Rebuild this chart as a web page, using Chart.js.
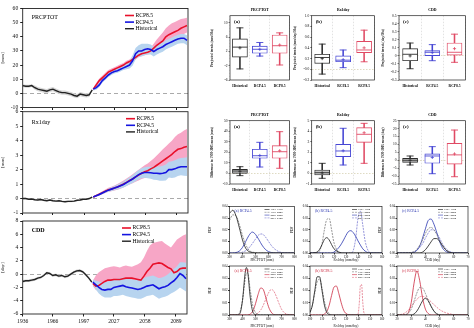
<!DOCTYPE html>
<html>
<head>
<meta charset="utf-8">
<script src="https://cdn.jsdelivr.net/npm/chart.js@4.4.1/dist/chart.umd.min.js"></script>
<style>
  html, body { margin: 0; padding: 0; background: #fff; }
  #wrap { position: relative; width: 474px; height: 328px; overflow: hidden; background: #fff; }
  #wrap canvas { position: absolute; }
</style>
</head>
<body>
<div id="wrap"></div>
<script>
// ---------- left column: time series ----------
const histYears = [1936, 1939, 1942, 1945, 1948, 1951, 1954, 1957, 1960, 1963, 1966, 1969, 1972, 1975, 1978, 1981, 1984, 1987, 1990, 1993, 1996, 1999, 2002, 2005]
const projYears = [2006, 2009, 2012, 2015, 2018, 2021, 2024, 2027, 2030, 2033, 2036, 2039, 2042, 2045, 2048, 2051, 2054, 2057, 2060, 2063, 2066, 2069, 2072, 2075, 2078, 2081, 2084, 2087, 2090, 2093, 2096, 2099]
const tickYears = [1936, 1966, 1997, 2027, 2058, 2089]

const prHist = [5.5, 5, 5, 5.5, 4, 3, 2.5, 2, 1.5, 2.5, 3, 2, 1, 0.5, 0.5, 0, -0.5, -1.5, -2, -0.5, -1, -1.5, -1, 2.5]
const prHistHi = [6.5, 6, 6, 6.5, 5.5, 4.5, 4, 3.5, 3, 4, 4.5, 3.5, 2.5, 2, 2, 1.5, 1, 0, -0.5, 1, 0.5, 0, 0.5, 3]
const prHistLo = [4.5, 4, 4, 4.5, 2.5, 1.5, 1, 0.5, 0, 1, 1.5, 0.5, -0.5, -1, -1, -1.5, -2, -3, -3.5, -2, -2.5, -3, -2.5, 2]
const pr85 = [3, 6, 9, 11, 13, 15, 16, 17, 18, 19, 20, 21.5, 22.5, 24, 25.5, 27, 28, 28.5, 29, 30, 32, 34, 35.5, 37, 40, 41.5, 42.5, 43.5, 44.5, 46, 47, 48]
const pr85Hi = [4, 7.5, 10.5, 12.5, 14.5, 16.5, 17.5, 18.5, 19.5, 20.5, 21.5, 23, 24, 25.5, 27.5, 29, 30, 30.5, 31, 32.5, 35, 38, 40.5, 43, 46, 48, 49.5, 50.5, 51.5, 52.5, 53, 53.5]
const pr85Lo = [2, 4.5, 7.5, 9.5, 11.5, 13.5, 14.5, 15.5, 16.5, 17.5, 18.5, 20, 21, 22.5, 24, 25.5, 26.5, 27, 27.5, 28, 29.5, 31, 32, 33, 35, 36.5, 37.5, 38.5, 39.5, 41, 42, 43]
const pr45 = [3, 4, 6, 9, 11, 13, 14.5, 15.5, 16, 17, 18, 19, 20, 23, 28, 30, 30, 31, 31.5, 31, 29.5, 31, 32, 33, 34.5, 35.5, 36.5, 37.5, 38.5, 39, 39, 37.5]
const pr45Hi = [4, 5.5, 7.5, 10.5, 12.5, 14.5, 16, 17, 17.5, 18.5, 19.5, 21, 23, 27, 32, 34, 35, 35, 35, 34.5, 33, 34, 35, 36, 37.5, 38.5, 39.5, 40.5, 41.5, 42, 42, 41]
const pr45Lo = [2, 2.5, 4.5, 7.5, 9.5, 11.5, 13, 14, 14.5, 15.5, 16.5, 17, 17.5, 19.5, 24, 26, 26, 27, 27.5, 27.5, 26, 27.5, 28.5, 29.5, 31, 32, 33, 34, 35, 35.5, 35.5, 34]

const rxHist = [0, 0, -0.05, -0.03, -0.08, -0.1, -0.07, -0.12, -0.15, -0.1, -0.15, -0.18, -0.15, -0.2, -0.22, -0.2, -0.2, -0.18, -0.12, -0.1, -0.05, -0.05, 0, 0.1]
const rxHistHi = [0.06, 0.06, 0.01, 0.03, -0.02, -0.04, -0.01, -0.06, -0.09, -0.04, -0.09, -0.12, -0.09, -0.14, -0.16, -0.14, -0.14, -0.12, -0.06, -0.04, 0.01, 0.01, 0.06, 0.16]
const rxHistLo = [-0.06, -0.06, -0.11, -0.09, -0.14, -0.16, -0.13, -0.18, -0.21, -0.16, -0.21, -0.24, -0.21, -0.26, -0.28, -0.26, -0.26, -0.24, -0.18, -0.16, -0.11, -0.11, -0.06, 0.04]
const rx85 = [0.1, 0.2, 0.3, 0.4, 0.5, 0.6, 0.65, 0.72, 0.8, 0.9, 1.0, 1.12, 1.25, 1.35, 1.5, 1.62, 1.75, 1.85, 1.92, 2.05, 2.15, 2.3, 2.45, 2.6, 2.75, 2.9, 3.05, 3.25, 3.4, 3.45, 3.55, 3.6]
const rx85Hi = [0.15, 0.27, 0.38, 0.5, 0.62, 0.74, 0.81, 0.9, 1.0, 1.12, 1.24, 1.38, 1.53, 1.67, 1.84, 1.99, 2.15, 2.3, 2.42, 2.6, 2.77, 2.98, 3.18, 3.4, 3.6, 3.8, 4.0, 4.25, 4.45, 4.55, 4.7, 4.8]
const rx85Lo = [0.05, 0.13, 0.22, 0.3, 0.38, 0.46, 0.5, 0.55, 0.6, 0.68, 0.76, 0.86, 0.97, 1.05, 1.16, 1.25, 1.35, 1.42, 1.45, 1.55, 1.62, 1.72, 1.82, 1.92, 2.0, 2.1, 2.2, 2.35, 2.45, 2.5, 2.55, 2.6]
const rx45 = [0.1, 0.2, 0.28, 0.38, 0.48, 0.58, 0.65, 0.72, 0.8, 0.88, 0.97, 1.1, 1.22, 1.35, 1.5, 1.65, 1.75, 1.8, 1.8, 1.78, 1.75, 1.75, 1.72, 1.75, 1.8, 2.0, 2.0, 2.05, 2.15, 2.2, 2.2, 2.2]
const rx45Hi = [0.15, 0.26, 0.36, 0.47, 0.58, 0.7, 0.78, 0.87, 0.97, 1.07, 1.18, 1.33, 1.47, 1.62, 1.8, 1.98, 2.1, 2.17, 2.2, 2.2, 2.2, 2.22, 2.22, 2.27, 2.35, 2.55, 2.58, 2.65, 2.75, 2.8, 2.82, 2.85]
const rx45Lo = [0.05, 0.14, 0.2, 0.29, 0.38, 0.46, 0.52, 0.57, 0.63, 0.69, 0.76, 0.87, 0.97, 1.08, 1.2, 1.32, 1.4, 1.43, 1.4, 1.36, 1.3, 1.28, 1.22, 1.23, 1.25, 1.45, 1.42, 1.45, 1.55, 1.6, 1.58, 1.55]

const cddHist = [-1.1, -1.0, -1.0, -0.9, -0.8, -0.6, -0.5, -0.2, 0.2, 0.1, -0.2, -0.1, -0.3, -0.2, -0.4, -0.3, 0, 0.3, 0.5, 0.55, 0.35, -0.1, -0.6, -1.2]
const cddHistHi = [-0.9, -0.8, -0.8, -0.7, -0.6, -0.4, -0.3, 0, 0.4, 0.3, 0, 0.1, -0.1, 0, -0.2, -0.1, 0.2, 0.5, 0.7, 0.75, 0.55, 0.1, -0.4, -1.0]
const cddHistLo = [-1.3, -1.2, -1.2, -1.1, -1.0, -0.8, -0.7, -0.4, 0, -0.1, -0.4, -0.3, -0.5, -0.4, -0.6, -0.5, -0.2, 0.1, 0.3, 0.35, 0.15, -0.3, -0.8, -1.4]
const cdd85 = [-1.4, -1.8, -1.7, -1.4, -1.1, -0.9, -0.9, -0.8, -0.8, -0.8, -0.7, -0.6, -0.6, -0.6, -0.7, -0.8, -0.9, -0.3, 0.4, 0.9, 1.5, 1.6, 1.7, 1.6, 1.3, 1.0, 0.8, 0.2, 0.4, 0.8, 0.9, 0.9]
const cdd85Hi = [-1.0, -0.2, 0.3, 0.6, 0.9, 1.0, 1.1, 1.2, 1.1, 1.0, 1.2, 1.3, 1.2, 1.1, 1.3, 1.5, 1.8, 2.5, 3.5, 4.3, 4.7, 4.8, 4.9, 5.0, 4.6, 4.3, 4.0, 4.6, 5.2, 5.5, 5.8, 6.0]
const cdd85Lo = [-1.8, -2.4, -2.5, -2.4, -2.2, -2.1, -2.1, -2.0, -2.0, -2.0, -1.9, -1.9, -1.9, -2.0, -2.1, -2.2, -2.3, -1.9, -1.5, -1.2, -0.8, -0.7, -0.6, -0.7, -1.0, -1.2, -1.5, -1.9, -1.9, -1.6, -1.5, -1.5]
const cdd45 = [-1.2, -1.6, -2.0, -2.3, -2.4, -2.3, -2.3, -2.0, -1.9, -1.8, -1.7, -1.9, -2.0, -2.1, -2.2, -2.3, -2.2, -2.0, -1.8, -1.7, -1.6, -1.9, -2.2, -2.0, -1.9, -1.7, -1.3, -1.0, -0.5, 0.1, -0.2, -0.7]
const cdd45Hi = [-0.8, -1.0, -1.1, -1.2, -1.2, -1.1, -1.0, -0.8, -0.7, -0.6, -0.5, -0.6, -0.7, -0.8, -0.9, -0.9, -0.8, -0.6, -0.4, -0.3, -0.2, -0.4, -0.6, -0.5, -0.3, 0, 0.4, 0.8, 1.2, 1.8, 1.8, 1.7]
const cdd45Lo = [-1.6, -2.3, -2.9, -3.3, -3.5, -3.5, -3.5, -3.3, -3.3, -3.2, -3.1, -3.3, -3.4, -3.5, -3.6, -3.7, -3.7, -3.5, -3.3, -3.2, -3.1, -3.4, -3.7, -3.5, -3.4, -3.2, -2.9, -2.7, -2.4, -2.0, -2.3, -2.6]

// ---------- right column: box plots ----------
const boxCats = ['Historical', 'RCP4.5', 'RCP8.5']
const boxColors = ['#2b2b2b', '#4646d4', '#e04a64']

const prTrend = { min: [-2.9, 0.7, -1.8], q1: [0.4, 1.5, 1.5], med: [3.2, 2.6, 3.6], q3: [5.5, 3.5, 6.6], max: [8.6, 4.5, 7.2], mean: [3.0, 2.6, 3.8] }
const rxTrend = { min: [-0.09, 0.03, 0.14], q1: [0.11, 0.14, 0.31], med: [0.22, 0.17, 0.36], q3: [0.28, 0.25, 0.52], max: [0.47, 0.36, 0.73], mean: [0.2, 0.18, 0.4] }
const cddTrend = { min: [-0.16, -0.06, -0.08], q1: [-0.06, 0, 0.01], med: [0.02, 0.045, 0.045], q3: [0.09, 0.065, 0.16], max: [0.16, 0.14, 0.27], mean: [0, 0.04, 0.09] }

const prDiff = { min: [-2.1, 6.1, 4.9], q1: [0.1, 14.4, 14.4], med: [2.3, 16.8, 20.6], q3: [3.9, 22.9, 26.3], max: [6.4, 29.5, 39.6], mean: [2.0, 17, 21.5] }
const rxDiff = { min: [-0.46, 0.8, 0.96], q1: [-0.15, 1.59, 2.95], med: [0.07, 2.13, 3.71], q3: [0.33, 2.76, 4.34], max: [0.96, 4.28, 4.75], mean: [0.05, 2.15, 3.86] }
const cddDiff = { min: [-3.0, -8.5, -10.4], q1: [-1.3, -1.9, -2.4], med: [0, 2.7, 3.4], q3: [1.2, 4.0, 10.7], max: [2.7, 8.6, 19.1], mean: [0, 1.8, 4.0] }

// ---------- right column: PDF curves ----------
const periods = ['1961-1990', '1991-2005', '2021-2050', '2071-2100']

const gridA3 = [300, 325, 350, 375, 400, 425, 450, 475, 500, 525, 550, 575, 600, 625, 650, 700, 750, 800]
const a3Black = [0.85, 0.92, 0.80, 0.55, 0.28, 0.10, 0.03, 0.01, 0, 0, 0, 0, 0, 0, 0, 0, 0, 0]
const a3Grey = [0.70, 0.82, 0.80, 0.62, 0.38, 0.18, 0.06, 0.02, 0.01, 0, 0, 0, 0, 0, 0, 0, 0, 0]
const a3Solid = [0, 0, 0.01, 0.04, 0.12, 0.25, 0.38, 0.45, 0.40, 0.29, 0.17, 0.08, 0.03, 0.01, 0, 0, 0, 0]
const a3Dash = [0, 0, 0, 0, 0.02, 0.05, 0.11, 0.20, 0.30, 0.39, 0.41, 0.35, 0.25, 0.15, 0.08, 0.01, 0, 0]

const gridB3 = [100, 105, 108, 110, 112, 114, 116, 118, 120, 125, 128, 130, 132, 134, 136, 138, 140, 142, 144, 146, 150, 155, 160]
const b3Black = [0, 0.01, 0.08, 0.18, 0.29, 0.33, 0.28, 0.18, 0.09, 0.01, 0, 0, 0, 0, 0, 0, 0, 0, 0, 0, 0, 0, 0]
const b3Grey = [0, 0, 0.05, 0.2, 0.5, 0.72, 0.74, 0.5, 0.22, 0.01, 0, 0, 0, 0, 0, 0, 0, 0, 0, 0, 0, 0, 0]
const b3Solid = [0, 0, 0, 0, 0, 0, 0, 0, 0.02, 0.15, 0.28, 0.38, 0.46, 0.48, 0.44, 0.36, 0.26, 0.17, 0.09, 0.04, 0, 0, 0]
const b3Dash = [0, 0, 0, 0, 0, 0, 0, 0, 0, 0, 0, 0, 0, 0, 0.05, 0.3, 0.75, 0.9, 0.6, 0.25, 0.01, 0, 0]

const gridC3 = [20, 30, 33, 36, 38, 40, 42, 44, 46, 48, 50, 52, 54, 56, 60, 70]
const c3Black = [0, 0, 0, 0, 0.02, 0.07, 0.15, 0.24, 0.31, 0.31, 0.25, 0.16, 0.08, 0.03, 0, 0]
const c3Grey = [0, 0.01, 0.05, 0.17, 0.28, 0.42, 0.52, 0.55, 0.5, 0.4, 0.27, 0.16, 0.08, 0.03, 0, 0]
const c3Solid = [0, 0, 0.03, 0.15, 0.32, 0.52, 0.7, 0.73, 0.62, 0.44, 0.25, 0.11, 0.04, 0.01, 0, 0]
const c3Dash = [0, 0.01, 0.04, 0.12, 0.2, 0.32, 0.43, 0.5, 0.49, 0.42, 0.32, 0.2, 0.11, 0.05, 0.01, 0]

const gridA4 = [300, 360, 380, 400, 420, 430, 440, 460, 480, 500, 520, 540, 560, 580, 600, 620, 640, 660, 680, 700, 720, 750, 800]
const a4Black = [0, 0, 0.03, 0.3, 0.85, 0.97, 0.88, 0.35, 0.06, 0.01, 0, 0, 0, 0, 0, 0, 0, 0, 0, 0, 0, 0, 0]
const a4Grey = [0, 0.01, 0.06, 0.3, 0.72, 0.85, 0.86, 0.5, 0.18, 0.05, 0.01, 0, 0, 0, 0, 0, 0, 0, 0, 0, 0, 0, 0]
const a4Solid = [0, 0, 0, 0, 0, 0, 0, 0.02, 0.08, 0.23, 0.42, 0.55, 0.52, 0.35, 0.17, 0.06, 0.01, 0, 0, 0, 0, 0, 0]
const a4Dash = [0, 0, 0, 0, 0, 0, 0, 0, 0, 0.01, 0.04, 0.1, 0.2, 0.33, 0.45, 0.52, 0.49, 0.38, 0.24, 0.12, 0.05, 0.01, 0]

const gridB4 = [100, 102, 104, 106, 108, 110, 112, 114, 116, 118, 120, 122, 124, 126, 128, 130, 135, 138, 140, 141, 142, 143, 144, 145, 147, 150, 160]
const b4Black = [0.05, 0.2, 0.5, 0.78, 0.78, 0.5, 0.2, 0.05, 0.01, 0, 0, 0, 0, 0, 0, 0, 0, 0, 0, 0, 0, 0, 0, 0, 0, 0, 0]
const b4Grey = [0.06, 0.2, 0.45, 0.68, 0.73, 0.55, 0.28, 0.1, 0.03, 0, 0, 0, 0, 0, 0, 0, 0, 0, 0, 0, 0, 0, 0, 0, 0, 0, 0]
const b4Solid = [0, 0, 0, 0, 0, 0, 0.02, 0.07, 0.2, 0.4, 0.57, 0.59, 0.44, 0.25, 0.1, 0.03, 0, 0, 0, 0, 0, 0, 0, 0, 0, 0, 0]
const b4Dash = [0, 0, 0, 0, 0, 0, 0, 0, 0, 0, 0, 0, 0, 0, 0, 0, 0, 0, 0.02, 0.22, 0.6, 0.62, 0.25, 0.04, 0, 0, 0]

const gridC4 = [20, 24, 26, 28, 30, 32, 34, 36, 38, 40, 42, 44, 46, 48, 50, 54, 60, 70]
const c4Black = [0, 0, 0, 0, 0, 0.02, 0.08, 0.18, 0.29, 0.34, 0.29, 0.18, 0.08, 0.02, 0, 0, 0, 0]
const c4Grey = [0, 0, 0.01, 0.04, 0.12, 0.28, 0.45, 0.56, 0.55, 0.44, 0.3, 0.17, 0.08, 0.03, 0.01, 0, 0, 0]
const c4Solid = [0, 0, 0, 0.05, 0.25, 0.65, 0.9, 0.7, 0.35, 0.12, 0.03, 0, 0, 0, 0, 0, 0, 0]
const c4Dash = [0, 0.02, 0.05, 0.1, 0.17, 0.25, 0.32, 0.37, 0.38, 0.36, 0.32, 0.27, 0.21, 0.16, 0.11, 0.05, 0.01, 0]


Chart.defaults.font.family = "'Liberation Serif', 'Times New Roman', serif"
Chart.defaults.color = '#111'

// frame, inner titles and small legends
const deco = {
    id: 'deco',
    afterDatasetsDraw(chart, args, o) {
        const ctx = chart.ctx
        const a = chart.chartArea
        ctx.save()
        ctx.setLineDash([])
        ctx.lineWidth = o.frame || 0.8
        ctx.strokeStyle = '#222'
        ctx.strokeRect(a.left, a.top, a.right - a.left, a.bottom - a.top)
        ctx.textBaseline = 'middle'
        if (o.title) {
            ctx.font = o.title.font
            ctx.fillStyle = '#000'
            ctx.textAlign = 'center'
            ctx.fillText(o.title.text, (a.left + a.right) / 2, a.top - o.title.dy)
        }
        if (o.tag) {
            ctx.font = o.tag.font
            ctx.fillStyle = o.tag.color || '#000'
            ctx.textAlign = 'left'
            ctx.fillText(o.tag.text, a.left + o.tag.dx, a.top + o.tag.dy)
        }
        if (o.legend) {
            const L = o.legend
            ctx.font = L.font
            ctx.textAlign = 'left'
            L.items.forEach(function (di, k) {
                const ds = chart.data.datasets[di]
                const x = a.right - L.right
                const y = a.top + L.top + k * L.gap
                ctx.strokeStyle = ds.borderColor
                ctx.lineWidth = L.width || ds.borderWidth
                ctx.setLineDash(ds.borderDash || [])
                ctx.beginPath()
                ctx.moveTo(x, y)
                ctx.lineTo(x + L.len, y)
                ctx.stroke()
                ctx.setLineDash([])
                ctx.fillStyle = '#000'
                ctx.fillText(ds.label, x + L.len + L.pad, y)
            })
        }
        ctx.restore()
    }
}
Chart.register(deco)

// box = [left, top, width, height] of the canvas, plot = [left, top, right, bottom] of the plot area
function makeChart(box, plot, cfg) {
    const cv = document.createElement('canvas')
    cv.width = box[2]
    cv.height = box[3]
    cv.style.left = box[0] + 'px'
    cv.style.top = box[1] + 'px'
    cv.style.width = box[2] + 'px'
    cv.style.height = box[3] + 'px'
    document.getElementById('wrap').appendChild(cv)
    const o = cfg.options
    o.responsive = false
    o.animation = false
    o.devicePixelRatio = 1
    o.events = []
    o.layout = { padding: { left: 0, top: plot[1] - box[1], right: box[0] + box[2] - plot[2], bottom: 0 } }
    o.scales.x.afterFit = function (s) { s.height = box[1] + box[3] - plot[3]; s.paddingLeft = 0; s.paddingRight = 0 }
    o.scales.y.afterFit = function (s) { s.width = plot[0] - box[0]; s.paddingTop = 0; s.paddingBottom = 0 }
    o.plugins = Object.assign({ legend: { display: false }, tooltip: { enabled: false } }, o.plugins)
    return new Chart(cv, cfg)
}

function pts(xs, ys) {
    return xs.map(function (x, i) { return { x: x, y: ys[i] } })
}

function bandPair(xs, hi, lo, color, order) {
    return [
        { data: pts(xs, hi), borderWidth: 0, pointRadius: 0, fill: '+1', backgroundColor: color, order: order },
        { data: pts(xs, lo), borderWidth: 0, pointRadius: 0, fill: false, order: order }
    ]
}

function seriesChart(box, plot, s) {
    const datasets = []
        .concat(bandPair(projYears, s.hi85, s.lo85, '#f7a6c6', 6))
        .concat(bandPair(projYears, s.hi45, s.lo45, '#b7d4ef', 5))
        .concat(bandPair(histYears, s.hiH, s.loH, '#d6d6d6', 5))
    datasets.push({ label: 'RCP8.5', data: pts(projYears, s.r85), borderColor: '#e8102a', borderWidth: 1.6, pointRadius: 0, order: 2 })
    datasets.push({ label: 'RCP4.5', data: pts(projYears, s.r45), borderColor: '#1414e0', borderWidth: 1.6, pointRadius: 0, order: 1 })
    datasets.push({ label: 'Historical', data: pts(histYears, s.hist), borderColor: '#222', borderWidth: 1.4, pointRadius: 0, order: 0 })
    return makeChart(box, plot, {
        type: 'line',
        data: { datasets: datasets },
        options: {
            scales: {
                x: {
                    type: 'linear', min: 1936, max: 2100,
                    afterBuildTicks: function (sc) { sc.ticks = tickYears.map(function (v) { return { value: v } }) },
                    ticks: { display: s.showX, callback: function (v) { return String(v) }, font: { size: 5.6 }, padding: 1.5, maxRotation: 0 },
                    grid: { drawOnChartArea: false, tickLength: 2.5, tickColor: '#222' },
                    border: { display: false }
                },
                y: {
                    min: s.ymin, max: s.ymax,
                    ticks: { stepSize: s.step, font: { size: 5.6 }, padding: 2 },
                    grid: {
                        color: function (c) { return Math.abs(c.tick.value) < 1e-9 ? '#aaaaaa' : 'rgba(0,0,0,0)' },
                        lineWidth: 1, tickLength: 2.5, tickColor: '#222'
                    },
                    border: { display: false, dash: [4, 3] },
                    title: { display: true, text: s.unit, font: { size: 5 }, padding: 0 }
                }
            },
            plugins: {
                deco: {
                    frame: 0.9,
                    tag: { text: s.name, font: s.nameFont, dx: 9, dy: s.nameDy },
                    legend: { items: [6, 7, 8], font: '5.6px "Liberation Serif"', right: s.legRight, top: 7, gap: 6.6, len: 9, pad: 1.5 }
                }
            }
        }
    })
}

function boxChart(box, plot, st, ax) {
    const cols = boxColors
    return makeChart(box, plot, {
        type: 'bar',
        data: {
            labels: boxCats,
            datasets: [
                { type: 'line', data: st.mean, showLine: false, pointStyle: 'cross', pointRadius: 1.6, pointBorderColor: cols, pointBorderWidth: 0.8, order: 0 },
                { type: 'line', data: st.med, showLine: false, pointStyle: 'line', pointRadius: 7.5, pointBorderColor: cols, pointBorderWidth: 0.9, order: 1 },
                { type: 'line', data: st.max, showLine: false, pointStyle: 'line', pointRadius: 3.5, pointBorderColor: cols, pointBorderWidth: 0.9, order: 1 },
                { type: 'line', data: st.min, showLine: false, pointStyle: 'line', pointRadius: 3.5, pointBorderColor: cols, pointBorderWidth: 0.9, order: 1 },
                { data: boxCats.map(function (c, i) { return [st.q1[i], st.q3[i]] }), backgroundColor: ax.fills, borderColor: cols, borderWidth: 0.9, borderSkipped: false, barThickness: 15, grouped: false, order: 2 },
                { data: boxCats.map(function (c, i) { return [st.min[i], st.max[i]] }), backgroundColor: cols, barThickness: 0.9, grouped: false, order: 3 }
            ]
        },
        options: {
            scales: {
                x: {
                    grid: { color: '#cfcfcf', lineWidth: 0.6, offset: true, drawTicks: false },
                    border: { display: false, dash: [1.5, 1.5] },
                    ticks: { font: { size: 3.6, weight: 'bold' }, padding: 3.5, color: '#000', maxRotation: 0, minRotation: 0, autoSkip: false }
                },
                y: {
                    min: ax.min, max: ax.max,
                    ticks: { stepSize: ax.step, font: { size: 3.6 }, padding: 1, color: '#000' },
                    grid: {
                        color: function (c) { return Math.abs(c.tick.value) < 1e-9 ? '#c9c29a' : 'rgba(0,0,0,0)' },
                        lineWidth: 0.6, tickLength: 1.5, tickColor: '#333'
                    },
                    border: { display: false, dash: [1.5, 1.5] },
                    title: { display: true, text: ax.ytitle, font: { size: 3.3, weight: 'bold' }, padding: 0 }
                }
            },
            plugins: {
                deco: {
                    frame: 0.7,
                    title: { text: ax.title, font: 'bold 3.8px "Liberation Serif"', dy: 5.5 },
                    tag: { text: ax.tag, font: 'bold 5px "Liberation Serif"', dx: 4, dy: 6.5 }
                }
            }
        }
    })
}

function pdfChart(box, plot, xs, curves, ax) {
    const main = ax.color
    const light = ax.light
    const styles = [
        { c: '#1a1a1a', d: [] },
        { c: '#7c7c7c', d: [2, 1] },
        { c: main, d: [] },
        { c: light, d: [2, 1] }
    ]
    const datasets = curves.map(function (ys, k) {
        return {
            label: periods[k], data: pts(xs, ys), borderColor: styles[k].c, borderDash: styles[k].d,
            borderWidth: 0.8, pointRadius: 0, cubicInterpolationMode: 'monotone', fill: false
        }
    })
    return makeChart(box, plot, {
        type: 'line',
        data: { datasets: datasets },
        options: {
            scales: {
                x: {
                    type: 'linear', min: ax.xmin, max: ax.xmax,
                    ticks: { stepSize: ax.xstep, font: { size: 3 }, padding: 0.5, maxRotation: 0, color: '#000' },
                    grid: { drawOnChartArea: false, tickLength: 1.5, tickColor: '#333' },
                    border: { display: false },
                    title: { display: true, text: ax.xtitle, font: { size: 3.4 }, padding: 0 }
                },
                y: {
                    min: 0, max: 1,
                    ticks: { stepSize: 0.25, font: { size: 3 }, padding: 0.5, color: '#000', callback: function (v) { return (v * 0.04).toFixed(2) } },
                    grid: { drawOnChartArea: false, tickLength: 1.5, tickColor: '#333' },
                    border: { display: false },
                    title: { display: true, text: 'PDF', font: { size: 3.4 }, padding: 0 }
                }
            },
            plugins: {
                deco: {
                    frame: 0.7,
                    tag: { text: ax.tag, font: '3.8px "Liberation Serif"', color: main, dx: 5, dy: 5 },
                    legend: { items: [0, 1, 2, 3], font: '2.8px "Liberation Serif"', right: 30, top: 3, gap: 2.8, len: 5, pad: 1, width: 0.6 }
                }
            }
        }
    })
}

// ----- left column -----
seriesChart([0, 0, 192, 110], [22.7, 8.5, 188, 107.5], {
    hist: prHist, hiH: prHistHi, loH: prHistLo, r85: pr85, hi85: pr85Hi, lo85: pr85Lo, r45: pr45, hi45: pr45Hi, lo45: pr45Lo,
    ymin: -10, ymax: 60, step: 10, unit: '[mm]', showX: false,
    name: 'PRCPTOT', nameFont: '6px "Liberation Serif"', nameDy: 8.5, legRight: 63
})
seriesChart([0, 107, 192, 108], [22.7, 111.7, 188, 213], {
    hist: rxHist, hiH: rxHistHi, loH: rxHistLo, r85: rx85, hi85: rx85Hi, lo85: rx85Lo, r45: rx45, hi45: rx45Hi, lo45: rx45Lo,
    ymin: -1, ymax: 6, step: 1, unit: '[mm]', showX: false,
    name: 'Rx1day', nameFont: '6px "Liberation Serif"', nameDy: 10.5, legRight: 62
})
seriesChart([0, 213, 192, 115], [22.7, 221, 187, 314], {
    hist: cddHist, hiH: cddHistHi, loH: cddHistLo, r85: cdd85, hi85: cdd85Hi, lo85: cdd85Lo, r45: cdd45, hi45: cdd45Hi, lo45: cdd45Lo,
    ymin: -6, ymax: 8, step: 2, unit: '[day]', showX: true,
    name: 'CDD', nameFont: 'bold 6px "Liberation Serif"', nameDy: 9, legRight: 65
})

// ----- box plots -----
const whiteFill = ['#ffffff', '#ffffff', '#ffffff']
const greyFill = ['#c4c4c4', '#ffffff', '#ffffff']

boxChart([210, 0, 88, 92], [230, 15.7, 294, 80], prTrend, { min: -6, max: 12, step: 2, fills: whiteFill, title: 'PRCPTOT', tag: '(a)', ytitle: 'Projected trends (mm/10a)' })
boxChart([293, 0, 90, 92], [311.7, 15.7, 380, 80], rxTrend, { min: -0.2, max: 1, step: 0.2, fills: whiteFill, title: 'Rx1day', tag: '(b)', ytitle: 'Projected trends (mm/day/10a)' })
boxChart([381, 0, 93, 92], [399, 15.7, 468, 80], cddTrend, { min: -0.3, max: 0.5, step: 0.1, fills: whiteFill, title: 'CDD', tag: '(c)', ytitle: 'Projected trends (day/10a)' })

boxChart([210, 105, 88, 92], [230, 120.7, 294, 184], prDiff, { min: -10, max: 50, step: 10, fills: greyFill, title: 'PRCPTOT', tag: '(a)', ytitle: 'Difference to 1976-2005 mean (mm)' })
boxChart([293, 105, 90, 92], [311.7, 120.7, 380, 184], rxDiff, { min: -1, max: 5, step: 1, fills: greyFill, title: 'Rx1day', tag: '(b)', ytitle: 'Difference to 1976-2005 mean (mm)' })
boxChart([381, 105, 93, 92], [399, 120.7, 468, 184], cddDiff, { min: -15, max: 25, step: 5, fills: greyFill, title: 'CDD', tag: '(c)', ytitle: 'Difference to 1976-2005 mean (day)' })

// ----- PDFs -----
const blue = { color: '#2a36b0', light: '#7b7bd2' }
const red = { color: '#cc2a40', light: '#e27486' }

pdfChart([208, 200, 92, 62], [229.5, 206.5, 294.5, 253], gridA3, [a3Black, a3Grey, a3Solid, a3Dash],
    { xmin: 300, xmax: 800, xstep: 100, xtitle: 'PRCPTOT (mm)', tag: '(a) RCP4.5', color: blue.color, light: blue.light })
pdfChart([290, 200, 97, 62], [310, 206.5, 382, 253], gridB3, [b3Black, b3Grey, b3Solid, b3Dash],
    { xmin: 100, xmax: 160, xstep: 10, xtitle: 'Rx1day (mm/day)', tag: '(b) RCP4.5', color: blue.color, light: blue.light })
pdfChart([378, 200, 96, 62], [397, 206.5, 468, 253], gridC3, [c3Black, c3Grey, c3Solid, c3Dash],
    { xmin: 20, xmax: 70, xstep: 10, xtitle: 'CDD (day)', tag: '(c) RCP4.5', color: blue.color, light: blue.light })

pdfChart([208, 262, 92, 66], [229.5, 266, 294.5, 315], gridA4, [a4Black, a4Grey, a4Solid, a4Dash],
    { xmin: 300, xmax: 800, xstep: 100, xtitle: 'PRCPTOT (mm)', tag: '(a) RCP8.5', color: red.color, light: red.light })
pdfChart([290, 262, 97, 66], [310, 266, 382, 315], gridB4, [b4Black, b4Grey, b4Solid, b4Dash],
    { xmin: 100, xmax: 160, xstep: 10, xtitle: 'Rx1day (mm/day)', tag: '(b) RCP8.5', color: red.color, light: red.light })
pdfChart([378, 262, 96, 66], [397, 266, 468, 315], gridC4, [c4Black, c4Grey, c4Solid, c4Dash],
    { xmin: 20, xmax: 70, xstep: 10, xtitle: 'CDD (day)', tag: '(c) RCP8.5', color: red.color, light: red.light })
</script>
</body>
</html>
